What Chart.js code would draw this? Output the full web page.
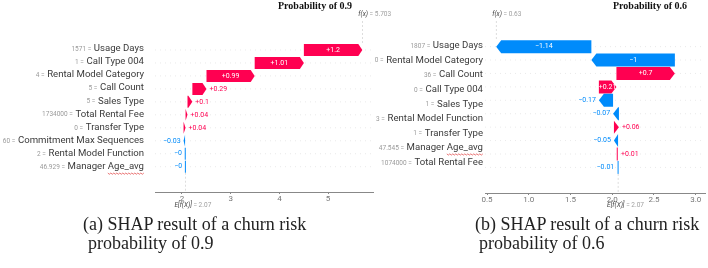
<!DOCTYPE html>
<html>
<head>
<meta charset="utf-8">
<script src="https://cdn.jsdelivr.net/npm/chart.js@4.4.0/dist/chart.umd.min.js"></script>
<style>
  html, body { margin: 0; padding: 0; background: #fff; }
  body { width: 708px; height: 268px; position: relative; overflow: hidden; }
  canvas { position: absolute; top: 0; }
  #chartA { left: 0; }
  #chartB { left: 360px; }
  .title { position: absolute; top: 0; font: bold 10px/12px "Liberation Serif", serif; color: #111; white-space: nowrap; }
  .cap { position: absolute; font: 18px/19px "Liberation Serif", serif; color: #222; white-space: nowrap; }
</style>
</head>
<body>
<canvas id="chartA" width="400" height="215"></canvas>
<canvas id="chartB" width="348" height="215"></canvas>
<div class="title" style="left:278px">Probability of 0.9</div>
<div class="title" style="left:613px">Probability of 0.6</div>
<div class="cap" style="left:83px; top:215px">(a) SHAP result of a churn risk</div>
<div class="cap" style="left:88px; top:234px">probability of 0.9</div>
<div class="cap" style="left:475px; top:215px">(b) SHAP result of a churn risk</div>
<div class="cap" style="left:479px; top:234px">probability of 0.6</div>
<script>
const baseValue = 2.07;

// (a) churn probability 0.9
const leftFeatures = ['Usage Days', 'Call Type 004', 'Rental Model Category', 'Call Count', 'Sales Type',
  'Total Rental Fee', 'Transfer Type', 'Commitment Max Sequences', 'Rental Model Function', 'Manager Age_avg'];
const leftFeatureValues = ['1571', '1', '4', '5', '5', '1734000', '0', '60', '2', '46.929'];
const leftShap = [1.2, 1.01, 0.99, 0.29, 0.1, 0.04, 0.04, -0.03, -0.004, -0.003];
const leftFx = 5.703;
const leftTicks = [2, 3, 4, 5];

// (b) churn probability 0.6 (the figure has 10 arrows but only 9 names)
const rightFeatures = ['Usage Days', 'Rental Model Category', 'Call Count', 'Call Type 004', 'Sales Type',
  'Rental Model Function', 'Transfer Type', 'Manager Age_avg', 'Total Rental Fee'];
const rightFeatureValues = ['1807', '0', '36', '0', '1', '3', '1', '47.545', '1074000'];
const rightShap = [-1.14, -1, 0.7, 0.21, -0.17, -0.07, 0.06, -0.05, 0.01, -0.01];
const rightFx = 0.63;
const rightTicks = [0.5, 1.0, 1.5, 2.0, 2.5, 3.0];

const RED = '#ff0051';
const BLUE = '#008bfb';
const SANS = 'Roboto, "Open Sans", sans-serif';

// waterfall spans, accumulated from the bottom row upwards
function buildSpans(shap, base) {
  const spans = new Array(shap.length);
  let cum = base;
  for (let i = shap.length - 1; i >= 0; i--) {
    spans[i] = [cum, cum + shap[i]];
    cum += shap[i];
  }
  return spans;
}

function fmtShap(v) {
  const a = Math.round(Math.abs(v) * 100) / 100;
  return (v < 0 ? '\u2212' : '+') + a;
}

const waterfallPlugin = {
  id: 'waterfall',
  afterDatasetsDraw(chart, args, o) {
    const ctx = chart.ctx;
    const xs = chart.scales.x;
    const area = chart.chartArea;
    const bars = chart.getDatasetMeta(0).data;
    ctx.save();

    // faint row guides
    ctx.strokeStyle = '#d4d4d4';
    ctx.lineWidth = 0.5;
    ctx.setLineDash([1, 4]);
    bars.forEach(b => {
      ctx.beginPath();
      ctx.moveTo(area.left, b.y);
      ctx.lineTo(area.right, b.y);
      ctx.stroke();
    });

    // E[f(X)] and f(x) guides
    ctx.strokeStyle = '#bbbbbb';
    ctx.setLineDash([2, 2]);
    const bx = xs.getPixelForValue(o.base);
    const last = bars[bars.length - 1];
    ctx.beginPath();
    ctx.moveTo(bx, last.y + last.height / 2);
    ctx.lineTo(bx, area.bottom);
    ctx.stroke();
    const fxPx = xs.getPixelForValue(o.spans[0][1]);
    ctx.beginPath();
    ctx.moveTo(fxPx, 21);
    ctx.lineTo(fxPx, bars[0].y - bars[0].height / 2);
    ctx.stroke();
    ctx.setLineDash([]);

    // arrows
    bars.forEach((b, i) => {
      const [s, e] = o.spans[i];
      const x0 = xs.getPixelForValue(s);
      const x1 = xs.getPixelForValue(e);
      const h = b.height / 2;
      const cy = b.y;
      const dir = x1 >= x0 ? 1 : -1;
      const w = Math.abs(x1 - x0);
      ctx.fillStyle = o.shap[i] >= 0 ? RED : BLUE;
      if (w < 1) {
        ctx.fillRect(x0 - 0.5, cy - h, 1, 2 * h);
        return;
      }
      const hl = Math.min(o.headLen, w);
      ctx.beginPath();
      ctx.moveTo(x0, cy - h);
      ctx.lineTo(x1 - dir * hl, cy - h);
      ctx.lineTo(x1, cy);
      ctx.lineTo(x1 - dir * hl, cy + h);
      ctx.lineTo(x0, cy + h);
      ctx.closePath();
      ctx.fill();
    });

    // value texts
    ctx.font = '7px ' + SANS;
    ctx.textBaseline = 'middle';
    bars.forEach((b, i) => {
      const [s, e] = o.spans[i];
      const x0 = xs.getPixelForValue(s);
      const x1 = xs.getPixelForValue(e);
      const txt = fmtShap(o.shap[i]);
      const tw = ctx.measureText(txt).width;
      const pos = o.shap[i] >= 0;
      if (tw < Math.abs(x1 - x0) + 1.5) {
        ctx.fillStyle = '#fff';
        ctx.textAlign = 'center';
        ctx.fillText(txt, (x0 + x1) / 2, b.y);
      } else {
        ctx.fillStyle = pos ? RED : BLUE;
        ctx.textAlign = pos ? 'left' : 'right';
        ctx.fillText(txt, pos ? Math.max(x0, x1) + 3 : Math.min(x0, x1) - 3, b.y);
      }
    });

    // feature names
    const yl = chart.scales.yl;
    ctx.textAlign = 'right';
    o.features.forEach((name, i) => {
      const y = yl.getPixelForValue(i);
      ctx.font = '9.6px ' + SANS;
      ctx.fillStyle = '#3a3a3a';
      ctx.fillText(name, o.labelX, y);
      const nw = ctx.measureText(name).width;
      if (name.indexOf('Age_avg') >= 0) {
        const sw = ctx.measureText('Age_avg').width;
        ctx.strokeStyle = '#e03c3c';
        ctx.lineWidth = 0.7;
        ctx.beginPath();
        let up = true;
        for (let x = o.labelX - sw; x <= o.labelX; x += 1.5) {
          ctx.lineTo(x, y + 6 + (up ? 0 : 1.2));
          up = !up;
        }
        ctx.stroke();
      }
      ctx.font = '6.5px ' + SANS;
      ctx.fillStyle = '#9a9a9a';
      ctx.fillText(o.values[i] + ' = ', o.labelX - nw - 1, y + 0.5);
    });

    // f(x) label on top
    ctx.textAlign = 'left';
    ctx.font = 'italic 6.5px ' + SANS;
    ctx.fillStyle = '#444';
    const fxTxt = 'f(x)';
    ctx.fillText(fxTxt, fxPx - 4, 14);
    const fw = ctx.measureText(fxTxt).width;
    ctx.font = '6.5px ' + SANS;
    ctx.fillStyle = '#a0a0a0';
    ctx.fillText(' = ' + o.fx, fxPx - 4 + fw, 14);

    // E[f(X)] label under the axis
    ctx.font = 'italic 6.5px ' + SANS;
    ctx.fillStyle = '#444';
    const eTxt = 'E[f(X)]';
    ctx.fillText(eTxt, bx - 11, 205);
    const ew = ctx.measureText(eTxt).width;
    ctx.font = '6.5px ' + SANS;
    ctx.fillStyle = '#a0a0a0';
    ctx.fillText(' = ' + o.base, bx - 11 + ew, 205);

    ctx.restore();
  }
};

function makeWaterfall(id, p) {
  const spans = buildSpans(p.shap, baseValue);
  return new Chart(document.getElementById(id), {
    type: 'bar',
    data: {
      datasets: [{
        data: spans.map((s, i) => ({ x: s, y: i })),
        backgroundColor: 'rgba(0,0,0,0)',
        borderWidth: 0,
        barThickness: p.barH
      }]
    },
    options: {
      indexAxis: 'y',
      responsive: false,
      animation: false,
      layout: { padding: { left: p.padLeft, right: p.padRight, top: p.padTop, bottom: 0 } },
      scales: {
        x: {
          type: 'linear',
          min: p.xMin,
          max: p.xMax,
          afterBuildTicks: s => { s.ticks = p.ticks.map(v => ({ value: v })); },
          afterFit: s => { s.height = p.axisH; },
          grid: { drawOnChartArea: false, tickLength: 2, color: '#888' },
          border: { color: '#888', width: 1 },
          ticks: {
            font: { family: SANS, size: 8 },
            color: '#777',
            padding: 0,
            maxRotation: 0,
            callback: v => p.tickFmt(v)
          }
        },
        y: { type: 'linear', reverse: true, min: -0.5, max: p.yMax, display: false },
        yl: { type: 'linear', axis: 'y', reverse: true, min: p.lMin, max: p.lMax, display: false }
      },
      plugins: {
        legend: { display: false },
        tooltip: { enabled: false },
        waterfall: {
          spans: spans,
          shap: p.shap,
          features: p.features,
          values: p.values,
          base: baseValue,
          fx: p.fx,
          labelX: p.labelX,
          headLen: p.headLen
        }
      }
    },
    plugins: [waterfallPlugin]
  });
}

makeWaterfall('chartA', {
  shap: leftShap, features: leftFeatures, values: leftFeatureValues, fx: leftFx,
  ticks: leftTicks, tickFmt: v => String(v),
  xMin: 1.446, xMax: 5.922, padLeft: 155, padRight: 27, padTop: 30, axisH: 23,
  yMax: 9.91, lMin: -0.38, lMax: 9.87, barH: 12, labelX: 144, headLen: 4
});

makeWaterfall('chartB', {
  shap: rightShap, features: rightFeatures, values: rightFeatureValues, fx: rightFx,
  ticks: rightTicks, tickFmt: v => v.toFixed(1),
  xMin: 0.476, xMax: 3.111, padLeft: 125, padRight: 3, padTop: 26, axisH: 22,
  yMax: 9.87, lMin: -0.4, lMax: 9.14, barH: 13, labelX: 123, headLen: 5
});
</script>
</body>
</html>
